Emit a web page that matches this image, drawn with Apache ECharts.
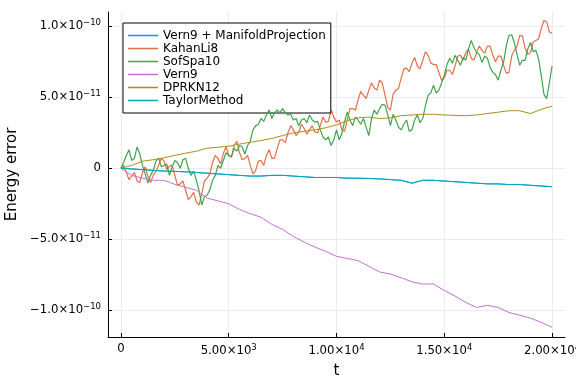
<!DOCTYPE html>
<html><head><meta charset="utf-8">
<script src="https://cdn.jsdelivr.net/npm/echarts@6/dist/echarts.min.js"></script>
<style>html,body{margin:0;padding:0;background:#fff}#c{width:576px;height:384px}</style>
</head><body><div id="c"></div>
<script>
// values are in units of 1e-11
const UNIT = 1e-11;
const FINE_STEP = 125;    // time step of orange/green samples
const COARSE_STEP = 500;  // time step of other samples

const seriesNames = ['Vern9 + ManifoldProjection', 'KahanLi8', 'SofSpa10', 'Vern9', 'DPRKN12', 'TaylorMethod'];
const seriesColors = ['#009BFA', '#E36F47', '#3EA44E', '#C371D2', '#AC8E18', '#00AAAE'];
const xTicks = [0, 5000, 10000, 15000, 20000];
const yTicks = [-1e-10, -5e-11, 0, 5e-11, 1e-10];

const vern9ManifoldValues = [0,-0.05,-0.1,-0.15,-0.2,-0.22,-0.25,-0.3,-0.35,-0.4,
  -0.45,-0.5,-0.55,-0.55,-0.5,-0.5,-0.55,-0.6,-0.65,-0.65,
  -0.65,-0.7,-0.7,-0.72,-0.75,-0.8,-0.85,-1.05,-0.85,-0.85,
  -0.9,-0.95,-1.0,-1.05,-1.1,-1.1,-1.15,-1.15,-1.2,-1.25,-1.3];

const kahanLi8Values = [0,0.2,-0.3,-0.8,-0.55,-0.3,-0.9,-1.0,-0.3,0.1,
  -0.55,-1.0,-0.5,-0.2,0.2,0.7,0.5,-0.1,0.15,0.2,
  -0.5,-1.2,-1.1,-0.9,-1.55,-2.2,-2.0,-1.7,-2.4,-2.6,
  -1.8,-0.9,-0.7,-0.4,0.4,0.9,0.7,0.3,1.05,1.5,
  0.9,0.8,1.6,1.9,1.1,0.6,0.7,0.9,0.2,-0.4,
  -0.15,0.5,0.55,0.2,0.9,1.3,0.7,0.7,1.4,2.0,
  2.0,1.8,2.5,3.0,2.7,2.3,2.55,3.1,2.8,2.4,
  2.7,3.0,2.55,2.5,3.0,3.6,3.25,3.3,4.1,3.6,
  3.25,3.4,2.7,2.6,3.4,4.2,4.2,4.1,4.8,5.4,
  5.15,4.9,5.5,6.0,5.65,5.5,6.2,6.0,5.15,4.3,
  4.1,5.2,5.5,5.6,6.35,7.0,7.05,6.8,7.4,7.8,
  7.2,7.0,7.6,8.2,7.95,7.4,7.3,7.3,6.75,6.2,
  6.35,6.9,6.9,6.6,7.2,7.9,7.95,7.6,8.15,8.4,
  7.75,7.6,8.15,8.6,8.3,8.1,8.6,8.6,7.95,7.5,
  7.9,7.9,7.25,6.7,6.75,7.9,8.3,8.6,9.35,9.3,
  8.45,8.0,8.15,8.9,9.0,9.1,9.85,10.4,10.3,9.6,
  9.5];

const sofSpa10Values = [0,0.4,0.9,1.3,0.55,0.7,1.5,1.0,0.2,-0.4,
  -1.05,-0.5,-0.15,0.5,0.7,0.1,0.2,0.3,-0.5,0.1,
  0.55,0.4,0,0.6,0.7,0.0,-0.5,-0.2,-0.85,-1.6,
  -2.6,-2.0,-1.9,-1.5,-0.85,-0.5,0.2,0.0,0.55,1.1,
  0.9,0.8,1.4,1.2,1.6,1.5,1.0,1.6,1.9,2.7,
  3.0,3.1,3.5,3.3,3.75,4.1,3.5,3.9,4.1,3.9,
  4.2,3.9,3.75,3.8,3.4,3.5,3.0,3.4,3.5,3.2,
  3.75,3.4,3.25,3.3,2.7,2.2,2.0,2.2,1.6,2.0,
  2.7,2.0,2.45,3.3,3.95,3.4,3.0,3.6,3.4,3.1,
  3.5,2.9,2.3,3.5,4.1,3.8,4.2,4.5,4.45,3.8,
  3.0,3.8,3.4,2.9,2.7,3.1,3.4,2.6,2.7,3.4,
  3.75,3.2,3.5,4.4,5.15,5.3,5.85,5.3,5.5,6.0,
  6.55,7.3,7.75,7.4,7.95,7.6,7.25,7.8,7.6,8.4,
  9.0,8.5,8.15,8.0,7.45,7.9,7.75,7.1,6.75,6.6,
  6.2,6.9,7.45,8.6,9.35,9.4,8.85,8.0,7.25,7.6,
  7.6,8.4,8.85,8.2,8.3,7.7,6.5,5.2,4.9,6.0,
  7.2];

const vern9Values = [0,-0.5,-0.7,-0.85,-0.85,-1.13,-1.34,-1.55,-2.1,-2.3,
  -2.5,-2.9,-3.2,-3.45,-3.95,-4.3,-4.8,-5.2,-5.55,-5.85,
  -6.2,-6.35,-6.5,-6.9,-7.3,-7.45,-7.7,-8.0,-8.15,-8.15,
  -8.6,-9.0,-9.45,-9.8,-9.65,-9.8,-10.15,-10.35,-10.55,-10.85,-11.2];

const dprkn12Values = [0,0.2,0.5,0.6,0.74,0.9,1.06,1.2,1.41,1.48,
  1.55,1.7,1.83,1.95,2.1,2.3,2.5,2.6,2.7,2.85,
  3.05,3.35,3.55,3.6,3.5,3.55,3.7,3.75,3.8,3.8,
  3.75,3.72,3.7,3.75,3.85,3.95,4.05,4.05,3.85,4.15,4.37];

const taylorValues = [0,-0.05,-0.1,-0.15,-0.2,-0.22,-0.25,-0.3,-0.35,-0.4,
  -0.45,-0.5,-0.55,-0.55,-0.5,-0.5,-0.55,-0.6,-0.65,-0.65,
  -0.65,-0.7,-0.7,-0.72,-0.75,-0.8,-0.85,-1.05,-0.85,-0.85,
  -0.9,-0.95,-1.0,-1.05,-1.1,-1.1,-1.15,-1.15,-1.2,-1.25,-1.3];

const seriesValues = [vern9ManifoldValues, kahanLi8Values, sofSpa10Values, vern9Values, dprkn12Values, taylorValues];
const seriesSteps = [COARSE_STEP, FINE_STEP, FINE_STEP, COARSE_STEP, COARSE_STEP, COARSE_STEP];

function toPairs(step, vals) { return vals.map((v, i) => [i * step, v * UNIT]); }

function sciLabel(v, digits) {
  if (Math.abs(v) < 1e-30) return '{b|0}';
  const e = Math.floor(Math.log10(Math.abs(v)) + 1e-9);
  const m = Math.abs(v) / Math.pow(10, e);
  const sign = v < 0 ? '\u2212' : '';
  const es = (e < 0 ? '\u2212' : '') + Math.abs(e);
  return '{b|' + sign + m.toFixed(digits) + '×10}{sup|' + es + '}';
}

const FONT = 'DejaVu Sans';
const rich = {
  b: { fontSize: 11.7, fontFamily: FONT, color: '#000' },
  sup: { fontSize: 8.5, fontFamily: FONT, color: '#000', padding: [0, 0, 7, 0] }
};

const chart = echarts.init(document.getElementById('c'), null, { renderer: 'canvas' });
chart.setOption({
  animation: false,
  backgroundColor: '#fff',
  grid: { left: 108, right: 11, top: 12, bottom: 47, containLabel: false, outerBoundsMode: 'none' },
  legend: {
    orient: 'vertical', left: 123, top: 23,
    padding: [6, 5, 6, 5], itemGap: 0,
    itemWidth: 30, itemHeight: 1.5, icon: 'rect',
    backgroundColor: '#fff', borderColor: '#000', borderWidth: 1,
    textStyle: { fontFamily: FONT, fontSize: 12, color: '#000', lineHeight: 13 },
    data: seriesNames
  },
  xAxis: {
    type: 'value', min: -600, max: 20600,
    name: 't', nameLocation: 'middle', nameGap: 27,
    nameTextStyle: { fontFamily: FONT, fontSize: 15, color: '#000' },
    axisLine: { show: true, onZero: false, lineStyle: { color: '#000', width: 1 } },
    axisTick: { show: true, inside: true, length: 4, customValues: xTicks, lineStyle: { color: '#000' } },
    axisLabel: { customValues: xTicks, margin: 6, formatter: v => sciLabel(v, 2), rich: rich },
    splitLine: { show: true, lineStyle: { color: '#ebebeb', width: 1 } }
  },
  yAxis: {
    type: 'value', min: -1.188e-10, max: 1.10e-10,
    name: 'Energy error', nameLocation: 'middle', nameGap: 87, nameRotate: 90,
    nameTextStyle: { fontFamily: FONT, fontSize: 15, color: '#000' },
    axisLine: { show: true, onZero: false, lineStyle: { color: '#000', width: 1 } },
    axisTick: { show: true, inside: true, length: 4, customValues: yTicks, lineStyle: { color: '#000' } },
    axisLabel: { customValues: yTicks, margin: 7, formatter: v => sciLabel(v, 1), rich: rich },
    splitLine: { show: true, lineStyle: { color: '#ebebeb', width: 1 } }
  },
  series: seriesNames.map((name, i) => ({
    name: name, type: 'line', showSymbol: false, symbol: 'none',
    data: toPairs(seriesSteps[i], seriesValues[i]),
    lineStyle: { color: seriesColors[i], width: (i === 1 || i === 2) ? 1.2 : 1 },
    itemStyle: { color: seriesColors[i] },
    z: 2 + i
  }))
});
</script></body></html>
